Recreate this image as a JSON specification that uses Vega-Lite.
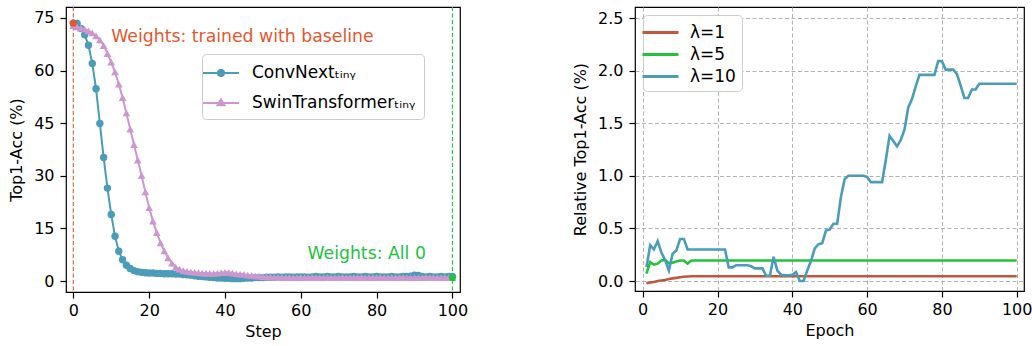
{
"$schema":"https://vega.github.io/schema/vega-lite/v6.json",
"background":"white",
"padding":{"left":8,"top":5,"right":0,"bottom":0},
"spacing":102,
"config":{
"font":"DejaVu Sans",
"view":{"stroke":"black","strokeWidth":1.2},
"axis":{"labelFont":"DejaVu Sans","titleFont":"DejaVu Sans","labelFontSize":16,"titleFontSize":16,"titleFontWeight":"normal","labelColor":"#000","titleColor":"#000","tickColor":"#000","tickWidth":1.2,"tickSize":6,"domain":false,"grid":false,"labelFlush":false},
"axisX":{"labelPadding":4,"titlePadding":5},
"axisY":{"labelPadding":6,"titlePadding":9},
"legend":{"labelFont":"DejaVu Sans","labelFontSize":17,"labelColor":"#000","labelLimit":400,"fillColor":"white","strokeColor":"#cccccc","cornerRadius":4}
},
"resolve":{"scale":{"color":"independent"},"legend":{"color":"independent"}},
"datasets":{
"acc":[
{"step":0,"model":"ConvNext","acc":73.5},{"step":1,"model":"ConvNext","acc":73.4},{"step":2,"model":"ConvNext","acc":72.0},{"step":3,"model":"ConvNext","acc":70.2},{"step":4,"model":"ConvNext","acc":67.2},{"step":5,"model":"ConvNext","acc":62.0},{"step":6,"model":"ConvNext","acc":54.8},{"step":7,"model":"ConvNext","acc":44.9},{"step":8,"model":"ConvNext","acc":35.2},{"step":9,"model":"ConvNext","acc":26.5},
{"step":10,"model":"ConvNext","acc":19.0},{"step":11,"model":"ConvNext","acc":12.8},{"step":12,"model":"ConvNext","acc":8.5},{"step":13,"model":"ConvNext","acc":6.1},{"step":14,"model":"ConvNext","acc":4.5},{"step":15,"model":"ConvNext","acc":3.6},{"step":16,"model":"ConvNext","acc":3.0},{"step":17,"model":"ConvNext","acc":2.7},{"step":18,"model":"ConvNext","acc":2.5},{"step":19,"model":"ConvNext","acc":2.4},
{"step":20,"model":"ConvNext","acc":2.3},{"step":21,"model":"ConvNext","acc":2.3},{"step":22,"model":"ConvNext","acc":2.2},{"step":23,"model":"ConvNext","acc":2.2},{"step":24,"model":"ConvNext","acc":2.1},{"step":25,"model":"ConvNext","acc":2.1},{"step":26,"model":"ConvNext","acc":2.1},{"step":27,"model":"ConvNext","acc":2.0},{"step":28,"model":"ConvNext","acc":2.0},{"step":29,"model":"ConvNext","acc":1.9},
{"step":30,"model":"ConvNext","acc":1.8},{"step":31,"model":"ConvNext","acc":1.7},{"step":32,"model":"ConvNext","acc":1.5},{"step":33,"model":"ConvNext","acc":1.4},{"step":34,"model":"ConvNext","acc":1.3},{"step":35,"model":"ConvNext","acc":1.2},{"step":36,"model":"ConvNext","acc":1.1},{"step":37,"model":"ConvNext","acc":1.0},{"step":38,"model":"ConvNext","acc":0.9},{"step":39,"model":"ConvNext","acc":0.9},
{"step":40,"model":"ConvNext","acc":0.8},{"step":41,"model":"ConvNext","acc":0.8},{"step":42,"model":"ConvNext","acc":0.7},{"step":43,"model":"ConvNext","acc":0.7},{"step":44,"model":"ConvNext","acc":0.7},{"step":45,"model":"ConvNext","acc":0.8},{"step":46,"model":"ConvNext","acc":0.9},{"step":47,"model":"ConvNext","acc":0.9},{"step":48,"model":"ConvNext","acc":1.0},{"step":49,"model":"ConvNext","acc":1.0},
{"step":50,"model":"ConvNext","acc":1.0},{"step":51,"model":"ConvNext","acc":1.1},{"step":52,"model":"ConvNext","acc":1.1},{"step":53,"model":"ConvNext","acc":1.1},{"step":54,"model":"ConvNext","acc":1.2},{"step":55,"model":"ConvNext","acc":1.1},{"step":56,"model":"ConvNext","acc":1.2},{"step":57,"model":"ConvNext","acc":1.2},{"step":58,"model":"ConvNext","acc":1.1},{"step":59,"model":"ConvNext","acc":1.2},
{"step":60,"model":"ConvNext","acc":1.2},{"step":61,"model":"ConvNext","acc":1.2},{"step":62,"model":"ConvNext","acc":1.1},{"step":63,"model":"ConvNext","acc":1.2},{"step":64,"model":"ConvNext","acc":1.3},{"step":65,"model":"ConvNext","acc":1.2},{"step":66,"model":"ConvNext","acc":1.2},{"step":67,"model":"ConvNext","acc":1.3},{"step":68,"model":"ConvNext","acc":1.2},{"step":69,"model":"ConvNext","acc":1.2},
{"step":70,"model":"ConvNext","acc":1.3},{"step":71,"model":"ConvNext","acc":1.2},{"step":72,"model":"ConvNext","acc":1.2},{"step":73,"model":"ConvNext","acc":1.2},{"step":74,"model":"ConvNext","acc":1.3},{"step":75,"model":"ConvNext","acc":1.2},{"step":76,"model":"ConvNext","acc":1.2},{"step":77,"model":"ConvNext","acc":1.3},{"step":78,"model":"ConvNext","acc":1.2},{"step":79,"model":"ConvNext","acc":1.2},
{"step":80,"model":"ConvNext","acc":1.3},{"step":81,"model":"ConvNext","acc":1.2},{"step":82,"model":"ConvNext","acc":1.2},{"step":83,"model":"ConvNext","acc":1.2},{"step":84,"model":"ConvNext","acc":1.3},{"step":85,"model":"ConvNext","acc":1.2},{"step":86,"model":"ConvNext","acc":1.2},{"step":87,"model":"ConvNext","acc":1.3},{"step":88,"model":"ConvNext","acc":1.3},{"step":89,"model":"ConvNext","acc":1.4},
{"step":90,"model":"ConvNext","acc":1.7},{"step":91,"model":"ConvNext","acc":1.6},{"step":92,"model":"ConvNext","acc":1.3},{"step":93,"model":"ConvNext","acc":1.2},{"step":94,"model":"ConvNext","acc":1.3},{"step":95,"model":"ConvNext","acc":1.2},{"step":96,"model":"ConvNext","acc":1.2},{"step":97,"model":"ConvNext","acc":1.3},{"step":98,"model":"ConvNext","acc":1.2},{"step":99,"model":"ConvNext","acc":1.3},{"step":100,"model":"ConvNext","acc":1.3},
{"step":0,"model":"SwinTransformer","acc":72.8},{"step":1,"model":"SwinTransformer","acc":72.4},{"step":2,"model":"SwinTransformer","acc":72.1},{"step":3,"model":"SwinTransformer","acc":71.8},{"step":4,"model":"SwinTransformer","acc":71.3},{"step":5,"model":"SwinTransformer","acc":70.7},{"step":6,"model":"SwinTransformer","acc":69.9},{"step":7,"model":"SwinTransformer","acc":68.7},{"step":8,"model":"SwinTransformer","acc":67.1},{"step":9,"model":"SwinTransformer","acc":64.8},
{"step":10,"model":"SwinTransformer","acc":62.4},{"step":11,"model":"SwinTransformer","acc":59.6},{"step":12,"model":"SwinTransformer","acc":56.1},{"step":13,"model":"SwinTransformer","acc":52.3},{"step":14,"model":"SwinTransformer","acc":47.9},{"step":15,"model":"SwinTransformer","acc":43.3},{"step":16,"model":"SwinTransformer","acc":38.9},{"step":17,"model":"SwinTransformer","acc":34.5},{"step":18,"model":"SwinTransformer","acc":30.1},{"step":19,"model":"SwinTransformer","acc":25.4},
{"step":20,"model":"SwinTransformer","acc":20.9},{"step":21,"model":"SwinTransformer","acc":17.1},{"step":22,"model":"SwinTransformer","acc":13.8},{"step":23,"model":"SwinTransformer","acc":10.9},{"step":24,"model":"SwinTransformer","acc":8.6},{"step":25,"model":"SwinTransformer","acc":6.6},{"step":26,"model":"SwinTransformer","acc":5.1},{"step":27,"model":"SwinTransformer","acc":4.0},{"step":28,"model":"SwinTransformer","acc":3.4},{"step":29,"model":"SwinTransformer","acc":3.0},
{"step":30,"model":"SwinTransformer","acc":2.8},{"step":31,"model":"SwinTransformer","acc":2.6},{"step":32,"model":"SwinTransformer","acc":2.5},{"step":33,"model":"SwinTransformer","acc":2.4},{"step":34,"model":"SwinTransformer","acc":2.3},{"step":35,"model":"SwinTransformer","acc":2.3},{"step":36,"model":"SwinTransformer","acc":2.2},{"step":37,"model":"SwinTransformer","acc":2.2},{"step":38,"model":"SwinTransformer","acc":2.3},{"step":39,"model":"SwinTransformer","acc":2.4},
{"step":40,"model":"SwinTransformer","acc":2.5},{"step":41,"model":"SwinTransformer","acc":2.5},{"step":42,"model":"SwinTransformer","acc":2.3},{"step":43,"model":"SwinTransformer","acc":2.1},{"step":44,"model":"SwinTransformer","acc":2.0},{"step":45,"model":"SwinTransformer","acc":1.9},{"step":46,"model":"SwinTransformer","acc":1.7},{"step":47,"model":"SwinTransformer","acc":1.6},{"step":48,"model":"SwinTransformer","acc":1.5},{"step":49,"model":"SwinTransformer","acc":1.4},
{"step":50,"model":"SwinTransformer","acc":1.3},{"step":51,"model":"SwinTransformer","acc":1.2},{"step":52,"model":"SwinTransformer","acc":1.2},{"step":53,"model":"SwinTransformer","acc":1.1},{"step":54,"model":"SwinTransformer","acc":1.1},{"step":55,"model":"SwinTransformer","acc":1.1},{"step":56,"model":"SwinTransformer","acc":1.0},{"step":57,"model":"SwinTransformer","acc":1.1},{"step":58,"model":"SwinTransformer","acc":1.0},{"step":59,"model":"SwinTransformer","acc":1.0},
{"step":60,"model":"SwinTransformer","acc":1.1},{"step":61,"model":"SwinTransformer","acc":1.0},{"step":62,"model":"SwinTransformer","acc":1.0},{"step":63,"model":"SwinTransformer","acc":1.1},{"step":64,"model":"SwinTransformer","acc":1.0},{"step":65,"model":"SwinTransformer","acc":1.0},{"step":66,"model":"SwinTransformer","acc":1.0},{"step":67,"model":"SwinTransformer","acc":1.1},{"step":68,"model":"SwinTransformer","acc":1.0},{"step":69,"model":"SwinTransformer","acc":1.0},
{"step":70,"model":"SwinTransformer","acc":1.0},{"step":71,"model":"SwinTransformer","acc":1.1},{"step":72,"model":"SwinTransformer","acc":1.0},{"step":73,"model":"SwinTransformer","acc":1.0},{"step":74,"model":"SwinTransformer","acc":1.0},{"step":75,"model":"SwinTransformer","acc":1.0},{"step":76,"model":"SwinTransformer","acc":1.1},{"step":77,"model":"SwinTransformer","acc":1.0},{"step":78,"model":"SwinTransformer","acc":1.0},{"step":79,"model":"SwinTransformer","acc":1.0},
{"step":80,"model":"SwinTransformer","acc":1.0},{"step":81,"model":"SwinTransformer","acc":1.1},{"step":82,"model":"SwinTransformer","acc":1.0},{"step":83,"model":"SwinTransformer","acc":1.0},{"step":84,"model":"SwinTransformer","acc":1.0},{"step":85,"model":"SwinTransformer","acc":1.0},{"step":86,"model":"SwinTransformer","acc":1.0},{"step":87,"model":"SwinTransformer","acc":1.1},{"step":88,"model":"SwinTransformer","acc":1.0},{"step":89,"model":"SwinTransformer","acc":1.0},
{"step":90,"model":"SwinTransformer","acc":1.0},{"step":91,"model":"SwinTransformer","acc":1.0},{"step":92,"model":"SwinTransformer","acc":1.0},{"step":93,"model":"SwinTransformer","acc":1.1},{"step":94,"model":"SwinTransformer","acc":1.0},{"step":95,"model":"SwinTransformer","acc":1.0},{"step":96,"model":"SwinTransformer","acc":1.0},{"step":97,"model":"SwinTransformer","acc":1.0},{"step":98,"model":"SwinTransformer","acc":1.0},{"step":99,"model":"SwinTransformer","acc":1.0},{"step":100,"model":"SwinTransformer","acc":1.0}
],
"rel":[
{"epoch":1,"lambda":1,"rel":-0.02},{"epoch":2,"lambda":1,"rel":-0.015},{"epoch":3,"lambda":1,"rel":-0.01},{"epoch":4,"lambda":1,"rel":0.0},{"epoch":5,"lambda":1,"rel":0.005},{"epoch":6,"lambda":1,"rel":0.01},{"epoch":7,"lambda":1,"rel":0.02},{"epoch":8,"lambda":1,"rel":0.025},{"epoch":9,"lambda":1,"rel":0.03},{"epoch":10,"lambda":1,"rel":0.035},
{"epoch":11,"lambda":1,"rel":0.04},{"epoch":12,"lambda":1,"rel":0.043},{"epoch":13,"lambda":1,"rel":0.045},{"epoch":14,"lambda":1,"rel":0.045},{"epoch":15,"lambda":1,"rel":0.045},{"epoch":16,"lambda":1,"rel":0.045},{"epoch":17,"lambda":1,"rel":0.045},{"epoch":18,"lambda":1,"rel":0.045},{"epoch":19,"lambda":1,"rel":0.045},{"epoch":20,"lambda":1,"rel":0.045},
{"epoch":21,"lambda":1,"rel":0.045},{"epoch":22,"lambda":1,"rel":0.045},{"epoch":23,"lambda":1,"rel":0.045},{"epoch":24,"lambda":1,"rel":0.045},{"epoch":25,"lambda":1,"rel":0.045},{"epoch":26,"lambda":1,"rel":0.045},{"epoch":27,"lambda":1,"rel":0.045},{"epoch":28,"lambda":1,"rel":0.045},{"epoch":29,"lambda":1,"rel":0.045},{"epoch":30,"lambda":1,"rel":0.045},
{"epoch":31,"lambda":1,"rel":0.045},{"epoch":32,"lambda":1,"rel":0.045},{"epoch":33,"lambda":1,"rel":0.045},{"epoch":34,"lambda":1,"rel":0.045},{"epoch":35,"lambda":1,"rel":0.045},{"epoch":36,"lambda":1,"rel":0.045},{"epoch":37,"lambda":1,"rel":0.045},{"epoch":38,"lambda":1,"rel":0.045},{"epoch":39,"lambda":1,"rel":0.045},{"epoch":40,"lambda":1,"rel":0.045},
{"epoch":41,"lambda":1,"rel":0.045},{"epoch":42,"lambda":1,"rel":0.045},{"epoch":43,"lambda":1,"rel":0.045},{"epoch":44,"lambda":1,"rel":0.045},{"epoch":45,"lambda":1,"rel":0.045},{"epoch":46,"lambda":1,"rel":0.045},{"epoch":47,"lambda":1,"rel":0.045},{"epoch":48,"lambda":1,"rel":0.045},{"epoch":49,"lambda":1,"rel":0.045},{"epoch":50,"lambda":1,"rel":0.045},
{"epoch":51,"lambda":1,"rel":0.045},{"epoch":52,"lambda":1,"rel":0.045},{"epoch":53,"lambda":1,"rel":0.045},{"epoch":54,"lambda":1,"rel":0.045},{"epoch":55,"lambda":1,"rel":0.045},{"epoch":56,"lambda":1,"rel":0.045},{"epoch":57,"lambda":1,"rel":0.045},{"epoch":58,"lambda":1,"rel":0.045},{"epoch":59,"lambda":1,"rel":0.045},{"epoch":60,"lambda":1,"rel":0.045},
{"epoch":61,"lambda":1,"rel":0.045},{"epoch":62,"lambda":1,"rel":0.045},{"epoch":63,"lambda":1,"rel":0.045},{"epoch":64,"lambda":1,"rel":0.045},{"epoch":65,"lambda":1,"rel":0.045},{"epoch":66,"lambda":1,"rel":0.045},{"epoch":67,"lambda":1,"rel":0.045},{"epoch":68,"lambda":1,"rel":0.045},{"epoch":69,"lambda":1,"rel":0.045},{"epoch":70,"lambda":1,"rel":0.045},
{"epoch":71,"lambda":1,"rel":0.045},{"epoch":72,"lambda":1,"rel":0.045},{"epoch":73,"lambda":1,"rel":0.045},{"epoch":74,"lambda":1,"rel":0.045},{"epoch":75,"lambda":1,"rel":0.045},{"epoch":76,"lambda":1,"rel":0.045},{"epoch":77,"lambda":1,"rel":0.045},{"epoch":78,"lambda":1,"rel":0.045},{"epoch":79,"lambda":1,"rel":0.045},{"epoch":80,"lambda":1,"rel":0.045},
{"epoch":81,"lambda":1,"rel":0.045},{"epoch":82,"lambda":1,"rel":0.045},{"epoch":83,"lambda":1,"rel":0.045},{"epoch":84,"lambda":1,"rel":0.045},{"epoch":85,"lambda":1,"rel":0.045},{"epoch":86,"lambda":1,"rel":0.045},{"epoch":87,"lambda":1,"rel":0.045},{"epoch":88,"lambda":1,"rel":0.045},{"epoch":89,"lambda":1,"rel":0.045},{"epoch":90,"lambda":1,"rel":0.045},
{"epoch":91,"lambda":1,"rel":0.045},{"epoch":92,"lambda":1,"rel":0.045},{"epoch":93,"lambda":1,"rel":0.045},{"epoch":94,"lambda":1,"rel":0.045},{"epoch":95,"lambda":1,"rel":0.045},{"epoch":96,"lambda":1,"rel":0.045},{"epoch":97,"lambda":1,"rel":0.045},{"epoch":98,"lambda":1,"rel":0.045},{"epoch":99,"lambda":1,"rel":0.045},{"epoch":100,"lambda":1,"rel":0.045},
{"epoch":1,"lambda":5,"rel":0.07},{"epoch":2,"lambda":5,"rel":0.18},{"epoch":3,"lambda":5,"rel":0.155},{"epoch":4,"lambda":5,"rel":0.165},{"epoch":5,"lambda":5,"rel":0.195},{"epoch":6,"lambda":5,"rel":0.2},{"epoch":7,"lambda":5,"rel":0.17},{"epoch":8,"lambda":5,"rel":0.175},{"epoch":9,"lambda":5,"rel":0.185},{"epoch":10,"lambda":5,"rel":0.195},
{"epoch":11,"lambda":5,"rel":0.195},{"epoch":12,"lambda":5,"rel":0.165},{"epoch":13,"lambda":5,"rel":0.195},{"epoch":14,"lambda":5,"rel":0.195},{"epoch":15,"lambda":5,"rel":0.195},{"epoch":16,"lambda":5,"rel":0.195},{"epoch":17,"lambda":5,"rel":0.195},{"epoch":18,"lambda":5,"rel":0.195},{"epoch":19,"lambda":5,"rel":0.195},{"epoch":20,"lambda":5,"rel":0.195},
{"epoch":21,"lambda":5,"rel":0.195},{"epoch":22,"lambda":5,"rel":0.195},{"epoch":23,"lambda":5,"rel":0.195},{"epoch":24,"lambda":5,"rel":0.195},{"epoch":25,"lambda":5,"rel":0.195},{"epoch":26,"lambda":5,"rel":0.195},{"epoch":27,"lambda":5,"rel":0.195},{"epoch":28,"lambda":5,"rel":0.195},{"epoch":29,"lambda":5,"rel":0.195},{"epoch":30,"lambda":5,"rel":0.195},
{"epoch":31,"lambda":5,"rel":0.195},{"epoch":32,"lambda":5,"rel":0.195},{"epoch":33,"lambda":5,"rel":0.195},{"epoch":34,"lambda":5,"rel":0.195},{"epoch":35,"lambda":5,"rel":0.195},{"epoch":36,"lambda":5,"rel":0.195},{"epoch":37,"lambda":5,"rel":0.195},{"epoch":38,"lambda":5,"rel":0.195},{"epoch":39,"lambda":5,"rel":0.195},{"epoch":40,"lambda":5,"rel":0.195},
{"epoch":41,"lambda":5,"rel":0.195},{"epoch":42,"lambda":5,"rel":0.195},{"epoch":43,"lambda":5,"rel":0.195},{"epoch":44,"lambda":5,"rel":0.195},{"epoch":45,"lambda":5,"rel":0.195},{"epoch":46,"lambda":5,"rel":0.195},{"epoch":47,"lambda":5,"rel":0.195},{"epoch":48,"lambda":5,"rel":0.195},{"epoch":49,"lambda":5,"rel":0.195},{"epoch":50,"lambda":5,"rel":0.195},
{"epoch":51,"lambda":5,"rel":0.195},{"epoch":52,"lambda":5,"rel":0.195},{"epoch":53,"lambda":5,"rel":0.195},{"epoch":54,"lambda":5,"rel":0.195},{"epoch":55,"lambda":5,"rel":0.195},{"epoch":56,"lambda":5,"rel":0.195},{"epoch":57,"lambda":5,"rel":0.195},{"epoch":58,"lambda":5,"rel":0.195},{"epoch":59,"lambda":5,"rel":0.195},{"epoch":60,"lambda":5,"rel":0.195},
{"epoch":61,"lambda":5,"rel":0.195},{"epoch":62,"lambda":5,"rel":0.195},{"epoch":63,"lambda":5,"rel":0.195},{"epoch":64,"lambda":5,"rel":0.195},{"epoch":65,"lambda":5,"rel":0.195},{"epoch":66,"lambda":5,"rel":0.195},{"epoch":67,"lambda":5,"rel":0.195},{"epoch":68,"lambda":5,"rel":0.195},{"epoch":69,"lambda":5,"rel":0.195},{"epoch":70,"lambda":5,"rel":0.195},
{"epoch":71,"lambda":5,"rel":0.195},{"epoch":72,"lambda":5,"rel":0.195},{"epoch":73,"lambda":5,"rel":0.195},{"epoch":74,"lambda":5,"rel":0.195},{"epoch":75,"lambda":5,"rel":0.195},{"epoch":76,"lambda":5,"rel":0.195},{"epoch":77,"lambda":5,"rel":0.195},{"epoch":78,"lambda":5,"rel":0.195},{"epoch":79,"lambda":5,"rel":0.195},{"epoch":80,"lambda":5,"rel":0.195},
{"epoch":81,"lambda":5,"rel":0.195},{"epoch":82,"lambda":5,"rel":0.195},{"epoch":83,"lambda":5,"rel":0.195},{"epoch":84,"lambda":5,"rel":0.195},{"epoch":85,"lambda":5,"rel":0.195},{"epoch":86,"lambda":5,"rel":0.195},{"epoch":87,"lambda":5,"rel":0.195},{"epoch":88,"lambda":5,"rel":0.195},{"epoch":89,"lambda":5,"rel":0.195},{"epoch":90,"lambda":5,"rel":0.195},
{"epoch":91,"lambda":5,"rel":0.195},{"epoch":92,"lambda":5,"rel":0.195},{"epoch":93,"lambda":5,"rel":0.195},{"epoch":94,"lambda":5,"rel":0.195},{"epoch":95,"lambda":5,"rel":0.195},{"epoch":96,"lambda":5,"rel":0.195},{"epoch":97,"lambda":5,"rel":0.195},{"epoch":98,"lambda":5,"rel":0.195},{"epoch":99,"lambda":5,"rel":0.195},{"epoch":100,"lambda":5,"rel":0.195},
{"epoch":1,"lambda":10,"rel":0.13},{"epoch":2,"lambda":10,"rel":0.34},{"epoch":3,"lambda":10,"rel":0.30},{"epoch":4,"lambda":10,"rel":0.38},{"epoch":5,"lambda":10,"rel":0.27},{"epoch":6,"lambda":10,"rel":0.2},{"epoch":7,"lambda":10,"rel":0.1},{"epoch":8,"lambda":10,"rel":0.26},{"epoch":9,"lambda":10,"rel":0.29},{"epoch":10,"lambda":10,"rel":0.4},
{"epoch":11,"lambda":10,"rel":0.4},{"epoch":12,"lambda":10,"rel":0.3},{"epoch":13,"lambda":10,"rel":0.3},{"epoch":14,"lambda":10,"rel":0.3},{"epoch":15,"lambda":10,"rel":0.3},{"epoch":16,"lambda":10,"rel":0.3},{"epoch":17,"lambda":10,"rel":0.3},{"epoch":18,"lambda":10,"rel":0.3},{"epoch":19,"lambda":10,"rel":0.3},{"epoch":20,"lambda":10,"rel":0.3},
{"epoch":21,"lambda":10,"rel":0.3},{"epoch":22,"lambda":10,"rel":0.3},{"epoch":23,"lambda":10,"rel":0.13},{"epoch":24,"lambda":10,"rel":0.13},{"epoch":25,"lambda":10,"rel":0.15},{"epoch":26,"lambda":10,"rel":0.15},{"epoch":27,"lambda":10,"rel":0.15},{"epoch":28,"lambda":10,"rel":0.15},{"epoch":29,"lambda":10,"rel":0.14},{"epoch":30,"lambda":10,"rel":0.12},
{"epoch":31,"lambda":10,"rel":0.12},{"epoch":32,"lambda":10,"rel":0.12},{"epoch":33,"lambda":10,"rel":0.05},{"epoch":34,"lambda":10,"rel":0.05},{"epoch":35,"lambda":10,"rel":0.23},{"epoch":36,"lambda":10,"rel":0.1},{"epoch":37,"lambda":10,"rel":0.06},{"epoch":38,"lambda":10,"rel":0.055},{"epoch":39,"lambda":10,"rel":0.055},{"epoch":40,"lambda":10,"rel":0.06},
{"epoch":41,"lambda":10,"rel":0.085},{"epoch":42,"lambda":10,"rel":0.0},{"epoch":43,"lambda":10,"rel":0.0},{"epoch":44,"lambda":10,"rel":0.1},{"epoch":45,"lambda":10,"rel":0.19},{"epoch":46,"lambda":10,"rel":0.31},{"epoch":47,"lambda":10,"rel":0.35},{"epoch":48,"lambda":10,"rel":0.36},{"epoch":49,"lambda":10,"rel":0.48},{"epoch":50,"lambda":10,"rel":0.49},
{"epoch":51,"lambda":10,"rel":0.545},{"epoch":52,"lambda":10,"rel":0.545},{"epoch":53,"lambda":10,"rel":0.8},{"epoch":54,"lambda":10,"rel":0.97},{"epoch":55,"lambda":10,"rel":1.0},{"epoch":56,"lambda":10,"rel":1.0},{"epoch":57,"lambda":10,"rel":1.0},{"epoch":58,"lambda":10,"rel":1.0},{"epoch":59,"lambda":10,"rel":1.0},{"epoch":60,"lambda":10,"rel":0.99},
{"epoch":61,"lambda":10,"rel":0.94},{"epoch":62,"lambda":10,"rel":0.94},{"epoch":63,"lambda":10,"rel":0.94},{"epoch":64,"lambda":10,"rel":0.94},{"epoch":65,"lambda":10,"rel":1.15},{"epoch":66,"lambda":10,"rel":1.38},{"epoch":67,"lambda":10,"rel":1.33},{"epoch":68,"lambda":10,"rel":1.28},{"epoch":69,"lambda":10,"rel":1.34},{"epoch":70,"lambda":10,"rel":1.44},
{"epoch":71,"lambda":10,"rel":1.65},{"epoch":72,"lambda":10,"rel":1.73},{"epoch":73,"lambda":10,"rel":1.85},{"epoch":74,"lambda":10,"rel":1.96},{"epoch":75,"lambda":10,"rel":1.96},{"epoch":76,"lambda":10,"rel":1.96},{"epoch":77,"lambda":10,"rel":1.96},{"epoch":78,"lambda":10,"rel":1.96},{"epoch":79,"lambda":10,"rel":2.09},{"epoch":80,"lambda":10,"rel":2.09},
{"epoch":81,"lambda":10,"rel":2.01},{"epoch":82,"lambda":10,"rel":2.01},{"epoch":83,"lambda":10,"rel":2.01},{"epoch":84,"lambda":10,"rel":1.97},{"epoch":85,"lambda":10,"rel":1.86},{"epoch":86,"lambda":10,"rel":1.74},{"epoch":87,"lambda":10,"rel":1.74},{"epoch":88,"lambda":10,"rel":1.82},{"epoch":89,"lambda":10,"rel":1.82},{"epoch":90,"lambda":10,"rel":1.875},
{"epoch":91,"lambda":10,"rel":1.875},{"epoch":92,"lambda":10,"rel":1.875},{"epoch":93,"lambda":10,"rel":1.875},{"epoch":94,"lambda":10,"rel":1.875},{"epoch":95,"lambda":10,"rel":1.875},{"epoch":96,"lambda":10,"rel":1.875},{"epoch":97,"lambda":10,"rel":1.875},{"epoch":98,"lambda":10,"rel":1.875},{"epoch":99,"lambda":10,"rel":1.875},{"epoch":100,"lambda":10,"rel":1.875}
]
},
"hconcat":[
{
"width":394,"height":285,
"layer":[
{"data":{"values":[{}]},"mark":{"type":"rule","color":"#e4572e","strokeDash":[4,2.5],"strokeWidth":1.1},"encoding":{"x":{"datum":0,"type":"quantitative"}}},
{"data":{"values":[{}]},"mark":{"type":"rule","color":"#22c340","strokeDash":[4,2.5],"strokeWidth":1.1},"encoding":{"x":{"datum":100,"type":"quantitative"}}},
{"data":{"name":"acc"},"transform":[{"filter":"datum.model === 'ConvNext'"}],
"mark":{"type":"line","strokeWidth":2,"point":{"filled":true,"size":55,"shape":"circle","opacity":1}},
"encoding":{
"x":{"field":"step","type":"quantitative","scale":{"domain":[-1.93,102.0],"nice":false,"zero":false},"axis":{"values":[0,20,40,60,80,100],"title":"Step"}},
"y":{"field":"acc","type":"quantitative","scale":{"domain":[-3.1,78.1],"nice":false,"zero":false},"axis":{"values":[0,15,30,45,60,75],"title":"Top1-Acc (%)"}},
"color":{"field":"model","type":"nominal","scale":{"domain":["ConvNext","SwinTransformer"],"range":["#4a9cb8","#cc96cf"]},
"legend":{"title":null,"orient":"none","legendX":136,"legendY":47,"labelExpr":"datum.label + 'ₜᵢₙᵧ'","symbolSize":400,"symbolStrokeWidth":2,"labelOffset":20,"rowPadding":11,"padding":8,
"encoding":{"symbols":{"shape":{"value":{"expr":"datum.value === 'ConvNext' ? 'M-1.8,0H1.8M0.3,0A0.3,0.3,0,1,1,-0.3,0A0.3,0.3,0,1,1,0.3,0Z' : 'M-1.8,0H1.8M0,-0.38L0.35,0.22L-0.35,0.22Z'"}},"fill":{"value":{"expr":"datum.value === 'ConvNext' ? '#4a9cb8' : '#cc96cf'"}},"stroke":{"value":{"expr":"datum.value === 'ConvNext' ? '#4a9cb8' : '#cc96cf'"}},"opacity":{"value":1},"strokeWidth":{"value":2}}}}}
}},
{"data":{"name":"acc"},"transform":[{"filter":"datum.model === 'SwinTransformer'"}],
"mark":{"type":"line","strokeWidth":2,"point":{"filled":true,"size":60,"shape":"triangle-up","opacity":1}},
"encoding":{
"x":{"field":"step","type":"quantitative"},
"y":{"field":"acc","type":"quantitative"},
"color":{"field":"model","type":"nominal",
"legend":{"title":null,"orient":"none","legendX":136,"legendY":47,"labelExpr":"datum.label + 'ₜᵢₙᵧ'","symbolSize":400,"symbolStrokeWidth":2,"labelOffset":20,"rowPadding":11,"padding":8,
"encoding":{"symbols":{"shape":{"value":{"expr":"datum.value === 'ConvNext' ? 'M-1.8,0H1.8M0.3,0A0.3,0.3,0,1,1,-0.3,0A0.3,0.3,0,1,1,0.3,0Z' : 'M-1.8,0H1.8M0,-0.38L0.35,0.22L-0.35,0.22Z'"}},"fill":{"value":{"expr":"datum.value === 'ConvNext' ? '#4a9cb8' : '#cc96cf'"}},"stroke":{"value":{"expr":"datum.value === 'ConvNext' ? '#4a9cb8' : '#cc96cf'"}},"opacity":{"value":1},"strokeWidth":{"value":2}}}}}
}},
{"data":{"values":[{}]},"mark":{"type":"point","shape":"M0,-1L0.951,-0.309L0.588,0.809L-0.588,0.809L-0.951,-0.309Z","filled":true,"size":70,"color":"#e4572e","opacity":1},"encoding":{"x":{"datum":0,"type":"quantitative"},"y":{"datum":73.5,"type":"quantitative"}}},
{"data":{"values":[{}]},"mark":{"type":"point","shape":"M0,-1L0.951,-0.309L0.588,0.809L-0.588,0.809L-0.951,-0.309Z","filled":true,"size":70,"color":"#22c340","opacity":1},"encoding":{"x":{"datum":100,"type":"quantitative"},"y":{"datum":1.0,"type":"quantitative"}}},
{"data":{"values":[{}]},"mark":{"type":"text","text":"Weights: trained with baseline","align":"left","baseline":"middle","fontSize":17.3,"font":"DejaVu Sans","color":"#e4572e"},"encoding":{"x":{"datum":10,"type":"quantitative"},"y":{"datum":69.6,"type":"quantitative"}}},
{"data":{"values":[{}]},"mark":{"type":"text","text":"Weights: All 0","align":"right","baseline":"middle","fontSize":17.3,"font":"DejaVu Sans","color":"#22c340"},"encoding":{"x":{"datum":93,"type":"quantitative"},"y":{"datum":7.6,"type":"quantitative"}}}
]
},
{
"width":389,"height":284,
"data":{"name":"rel"},
"mark":{"type":"line","strokeWidth":2.6},
"encoding":{
"x":{"field":"epoch","type":"quantitative","scale":{"domain":[-2.06,101.95],"nice":false,"zero":false},"axis":{"values":[0,20,40,60,80,100],"title":"Epoch","grid":true,"gridColor":"#b3b3b3","gridDash":[4,2.5],"gridWidth":1}},
"y":{"field":"rel","type":"quantitative","scale":{"domain":[-0.095,2.605],"nice":false,"zero":false},"axis":{"values":[0,0.5,1,1.5,2,2.5],"format":".1f","title":"Relative Top1-Acc (%)","grid":true,"gridColor":"#b3b3b3","gridDash":[4,2.5],"gridWidth":1}},
"color":{"field":"lambda","type":"nominal","scale":{"domain":[1,5,10],"range":["#c0583d","#22c33a","#4a9cb8"]},
"legend":{"title":null,"orient":"none","legendX":8,"legendY":8,"labelExpr":"'λ=' + datum.label","symbolType":"M-1.8,0H1.8","symbolSize":400,"symbolStrokeWidth":3,"labelOffset":18,"rowPadding":2,"padding":6}}
}
}
]
}
